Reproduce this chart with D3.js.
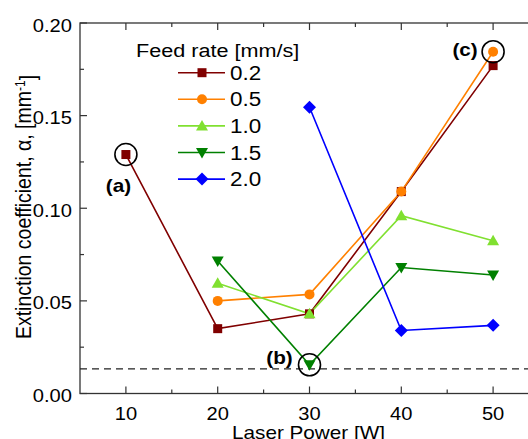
<!DOCTYPE html>
<html>
<head>
<meta charset="utf-8">
<script src="https://cdn.jsdelivr.net/npm/d3@7"></script>
<style>
  body { margin: 0; background: #fff; }
  svg { display: block; font-family: "Liberation Sans", Arial, sans-serif; }
</style>
</head>
<body>
<div id="chart"></div>
<script>
// Data
const powers = [10, 20, 30, 40, 50];
const feedRates = ["0.2", "0.5", "1.0", "1.5", "2.0"];
const alpha02 = [0.129, 0.035, 0.043, 0.109, 0.177];
const alpha05 = [null, 0.050, 0.0535, 0.109, 0.1845];
const alpha10 = [null, 0.0595, 0.043, 0.096, 0.0825];
const alpha15 = [null, 0.0715, 0.0155, 0.068, 0.064];
const alpha20 = [null, null, 0.1545, 0.034, 0.0368];
const xTicks = [10, 20, 30, 40, 50];
const yTicks = [0.00, 0.05, 0.10, 0.15, 0.20];
const threshold = 0.0133;
// highlighted points: [power, value, label]
const marked = [[10, 0.129, "(a)"], [30, 0.0155, "(b)"], [50, 0.1845, "(c)"]];

const seriesValues = [alpha02, alpha05, alpha10, alpha15, alpha20];
const colors = ["#800000", "#ff8000", "#80e030", "#008000", "#0000ff"];
const symbols = ["square", "circle", "tri", "triDown", "diamond"];

const W = 528, H = 439;
const margin = { top: 23, left: 80 };
const width = 459, height = 370.5;
const SX = 1.15; // text in the original is a bit wide

const svg = d3.select("#chart").append("svg")
  .attr("width", W).attr("height", H);

const g = svg.append("g")
  .attr("transform", `translate(${margin.left},${margin.top})`);

const x = d3.scaleLinear().domain([5, 55]).range([0, width]);
const y = d3.scaleLinear().domain([0, 0.2]).range([height, 0]);

function txt(parent, tx, ty, s, size, anchor) {
  return parent.append("text")
    .attr("transform", `translate(${tx},${ty}) scale(${SX},1)`)
    .attr("text-anchor", anchor)
    .style("font-size", size + "px")
    .text(s);
}

// frame
g.append("rect")
  .attr("x", 0).attr("y", 0)
  .attr("width", width).attr("height", height)
  .attr("fill", "none").attr("stroke", "#333").attr("stroke-width", 1.3);

// ticks (inward)
const xMinor = [15, 25, 35, 45];
const yMinor = [0.025, 0.075, 0.125, 0.175];
function tickLines(vals, len) {
  vals.forEach(v => {
    g.append("line").attr("x1", x(v)).attr("x2", x(v)).attr("y1", height).attr("y2", height - len)
      .attr("stroke", "#333").attr("stroke-width", 1.2);
    g.append("line").attr("x1", x(v)).attr("x2", x(v)).attr("y1", 0).attr("y2", len)
      .attr("stroke", "#333").attr("stroke-width", 1.2);
  });
}
tickLines(xTicks, 7);
tickLines(xMinor, 4);
yTicks.forEach(v => {
  g.append("line").attr("x1", 0).attr("x2", 7).attr("y1", y(v)).attr("y2", y(v))
    .attr("stroke", "#333").attr("stroke-width", 1.2);
});
yMinor.forEach(v => {
  g.append("line").attr("x1", 0).attr("x2", 4).attr("y1", y(v)).attr("y2", y(v))
    .attr("stroke", "#333").attr("stroke-width", 1.2);
});

// tick labels
xTicks.forEach(d => txt(g, x(d), height + 26.5, d, 17.5, "middle"));
yTicks.forEach(d => txt(g, -8, y(d) + 8.5, d3.format(".2f")(d), 17.5, "end"));

// axis titles
txt(svg, 308.5, 439, "Laser Power [W]", 18, "middle");
const yt = svg.append("text")
  .attr("transform", `translate(31,207) scale(${SX},1) rotate(-90)`)
  .attr("text-anchor", "middle").style("font-size", "19.5px");
yt.append("tspan").text("Extinction coefficient, α, [mm");
yt.append("tspan").attr("dy", "-0.45em").style("font-size", "12px").text("-1");
yt.append("tspan").attr("dy", "0.45em").text("]");

// dashed threshold
g.append("line")
  .attr("x1", 0).attr("x2", width)
  .attr("y1", y(threshold)).attr("y2", y(threshold))
  .attr("stroke", "#222").attr("stroke-width", 1.3)
  .attr("stroke-dasharray", "7,5");

function drawSymbol(sel, type, cx, cy, color) {
  if (type === "square") {
    sel.append("rect").attr("x", cx - 4.5).attr("y", cy - 4.5).attr("width", 9).attr("height", 9).attr("fill", color);
  } else if (type === "circle") {
    sel.append("circle").attr("cx", cx).attr("cy", cy).attr("r", 5).attr("fill", color);
  } else if (type === "tri") {
    sel.append("path").attr("d", `M${cx},${cy - 6}L${cx + 6},${cy + 4.5}L${cx - 6},${cy + 4.5}Z`).attr("fill", color);
  } else if (type === "triDown") {
    sel.append("path").attr("d", `M${cx},${cy + 6}L${cx + 6},${cy - 4.5}L${cx - 6},${cy - 4.5}Z`).attr("fill", color);
  } else {
    sel.append("path").attr("d", `M${cx},${cy - 6.5}L${cx + 6.5},${cy}L${cx},${cy + 6.5}L${cx - 6.5},${cy}Z`).attr("fill", color);
  }
}

const line = d3.line()
  .x(d => x(d[0])).y(d => y(d[1]));

seriesValues.forEach((vals, i) => {
  const pts = powers.map((p, j) => [p, vals[j]]).filter(d => d[1] !== null);
  g.append("path")
    .datum(pts)
    .attr("d", line)
    .attr("fill", "none")
    .attr("stroke", colors[i])
    .attr("stroke-width", 1.6);
});
seriesValues.forEach((vals, i) => {
  powers.forEach((p, j) => {
    if (vals[j] !== null) drawSymbol(g, symbols[i], x(p), y(vals[j]), colors[i]);
  });
});

// highlighted circles and labels
const labelOffsets = [[-7.5, 37], [-30, -1], [-28, 4]];
marked.forEach((m, i) => {
  g.append("circle")
    .attr("cx", x(m[0])).attr("cy", y(m[1])).attr("r", 11)
    .attr("fill", "none").attr("stroke", "#000").attr("stroke-width", 1.6);
  txt(g, x(m[0]) + labelOffsets[i][0], y(m[1]) + labelOffsets[i][1], m[2], 18, "middle")
    .style("font-weight", "bold");
});

// legend
const legend = svg.append("g").attr("transform", "translate(136,48)");
txt(legend, 0, 9, "Feed rate [mm/s]", 18.8, "start");
feedRates.forEach((f, i) => {
  const ly = 24.7 + i * 26.6;
  legend.append("line")
    .attr("x1", 42).attr("x2", 89).attr("y1", ly).attr("y2", ly)
    .attr("stroke", colors[i]).attr("stroke-width", 1.6);
  drawSymbol(legend, symbols[i], 66, ly, colors[i]);
  txt(legend, 94, ly + 7, f, 19.5, "start");
});
</script>
</body>
</html>
